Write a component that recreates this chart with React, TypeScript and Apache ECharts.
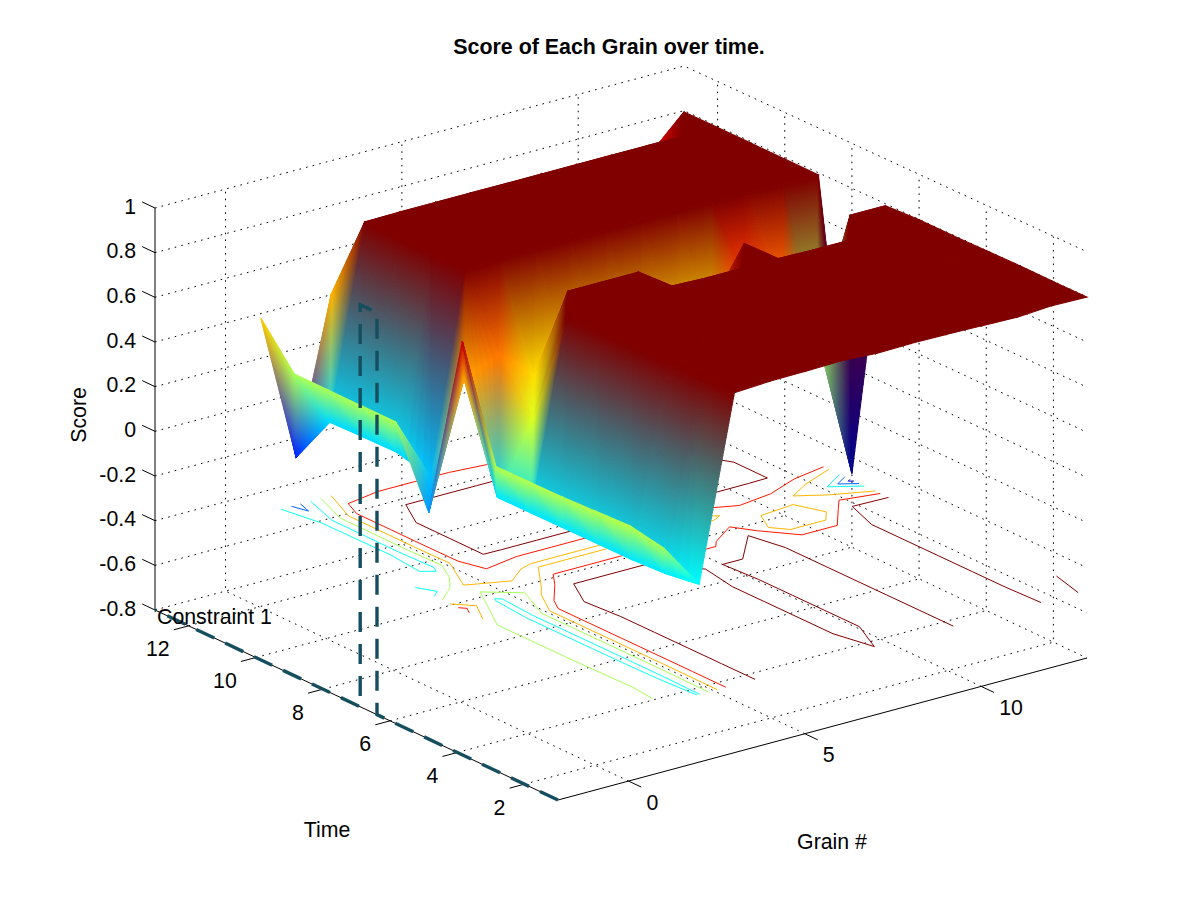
import React, { useEffect, useRef } from "react";
import * as echarts from "echarts";

// Score by grain (columns, grain 1..13), one array per time step
const grains = [1, 2, 3, 4, 5, 6, 7, 8, 9, 10, 11, 12, 13];
const times = [1, 2, 3, 4, 5, 6, 7, 8, 9, 10, 11, 12, 13];
const scoreT1 = [0.19, -0.012, 0.795, 0.8035, 0.805, 0.809, 0.8001, 0.803, 0.8008, 0.797, 0.793, 0.803, 0.799];
const scoreT2 = [0.22, -0.033, 0.795, 0.8035, 0.805, 0.809, 0.797, 0.803, 0.8008, 0.797, 0.797, 0.8016, 0.8001];
const scoreT3 = [0.215, -0.04, 0.795, 0.8035, 0.805, 0.809, 0.797, 0.803, 0.8008, 0.797, 0.797, 0.8016, 0.803];
const scoreT4 = [0.21, -0.04, 0.795, 0.8035, 0.805, 0.809, 0.797, 0.803, 0.8008, 0.797, 0.797, 0.8016, 0.803];
const scoreT5 = [0.21, -0.04, 0.795, 0.8035, 0.805, 0.809, 0.797, 0.803, 0.8008, 0.797, 0.797, 0.8016, 0.803];
const scoreT6 = [0.21, -0.04, 0.795, 0.805, 0.805, 0.805, 0.7997, 0.8004, 0.8008, 0.797, 0.797, 0.8016, 0.805];
const scoreT7 = [0.7, -0.04, 0.27, 0.799, 0.799, 0.799, 0.55, 0.55, 0.7999, 0.21, 0.21, 0.7999, 0.7995];
const scoreT8 = [-0.135, 0.42, 0.48, 0.35, 0.35, 0.35, 0.35, 0.35, 0.35, 0.55, 0.5, 0.2, -0.47];
const scoreT9 = [0.2, -0.09, 0.795, 0.805, 0.805, 0.805, 0.805, 0.805, 0.805, 0.805, 0.805, 0.796, 0.796];
const scoreT10 = [0.2, -0.05, 0.795, 0.805, 0.805, 0.805, 0.805, 0.805, 0.805, 0.805, 0.805, 0.796, 0.796];
const scoreT11 = [0.2, -0.053, 0.795, 0.805, 0.805, 0.805, 0.805, 0.805, 0.805, 0.799, 0.799, 0.796, 0.796];
const scoreT12 = [0.2, -0.057, 0.797, 0.799, 0.799, 0.799, 0.799, 0.799, 0.799, 0.799, 0.799, 0.799, 0.796];
const scoreT13 = [0.38, -0.285, 0.402, 0.5, 0.5, 0.5, 0.45, 0.5, 0.5, 0.5, 0.55, 0.64, 0.794];
const scores = [scoreT1, scoreT2, scoreT3, scoreT4, scoreT5, scoreT6, scoreT7, scoreT8, scoreT9, scoreT10, scoreT11, scoreT12, scoreT13];

const contourLevels = [-0.4, -0.2, 0, 0.2, 0.4, 0.6, 0.8];
const scoreTicks = [-0.8, -0.6, -0.4, -0.2, 0, 0.2, 0.4, 0.6, 0.8, 1];
const grainTicks = [0, 5, 10];
const timeTicks = [2, 4, 6, 8, 10, 12];
const constraintTimes = [6.39, 6.89];

const grainLim = [-2, 13];
const timeLim = [1, 13];
const scoreLim = [-0.8, 1];
const contourPlane = -0.5;
const colorLim = [-0.49, 0.788];
// [grain, time, level] of the one saddle cell whose contour splits the other way in the picture
const splitSaddle = [3, 7, 0.4];

// view of the box, taken from its corners on the page
const ORIGIN = [558, 800];
const GX = 529 / 15, GY = 142 / 15, TX = 403 / 12, TY = 190 / 12, ZH = 402 / 1.8;
function proj(g: number, t: number, z: number): [number, number] {
  const lift = ((z - scoreLim[0]) / 1.6) * Math.max(0, 7 - t) * 0.63;
  return [
    ORIGIN[0] + (g - grainLim[0]) * GX - (t - timeLim[0]) * TX,
    ORIGIN[1] - (g - grainLim[0]) * GY - (t - timeLim[0]) * TY - (z - scoreLim[0]) * ZH - (g >= grains[0] ? lift : 0),
  ];
}
const clamp01 = (v: number) => Math.max(0, Math.min(1, v));
function jet(z: number): number[] {
  const v = clamp01((z - colorLim[0]) / (colorLim[1] - colorLim[0]));
  return [
    255 * clamp01(1.5 - Math.abs(4 * v - 3)),
    255 * clamp01(1.5 - Math.abs(4 * v - 2)),
    255 * clamp01(1.5 - Math.abs(4 * v - 1)),
  ];
}
const css = (c: number[]) => `rgb(${Math.round(c[0])},${Math.round(c[1])},${Math.round(c[2])})`;
const mix = (a: number[], b: number[], k: number) => a.map((v, i) => v + (b[i] - v) * k);
const cdiff = (a: number[], b: number[]) => Math.max(Math.abs(a[0] - b[0]), Math.abs(a[1] - b[1]), Math.abs(a[2] - b[2]));
const plen = (a: number[], b: number[]) => Math.hypot(a[0] - b[0], a[1] - b[1]);

type V = { p: number[]; c: number[] };
function shadeTriangle(A: V, B: V, C: V, out: any[]) {
  // choose AB as the edge with least colour change, strips run parallel to it
  const opts: V[][] = [[A, B, C], [B, C, A], [C, A, B]];
  opts.sort((u, v) => cdiff(u[0].c, u[1].c) - cdiff(v[0].c, v[1].c));
  const [a, b, c] = opts[0];
  const d = Math.max(cdiff(a.c, c.c), cdiff(b.c, c.c));
  const L = Math.max(plen(a.p, c.p), plen(b.p, c.p));
  const n = Math.max(1, Math.min(Math.ceil(d / 4), Math.ceil(L / 2.5)));
  const m = Math.max(1, Math.min(Math.ceil(cdiff(a.c, b.c) / 8), Math.ceil(plen(a.p, b.p) / 3)));
  for (let i = 0; i < n; i++) {
    const k0 = i / n, k1 = (i + 1) / n;
    const p0a = mix(c.p, a.p, k0), p0b = mix(c.p, b.p, k0), p1a = mix(c.p, a.p, k1), p1b = mix(c.p, b.p, k1);
    const ca = mix(c.c, a.c, (k0 + k1) / 2), cb = mix(c.c, b.c, (k0 + k1) / 2);
    for (let j = 0; j < m; j++) {
      const s0 = j / m, s1 = (j + 1) / m;
      const pts = [mix(p0a, p0b, s0), mix(p0a, p0b, s1), mix(p1a, p1b, s1), mix(p1a, p1b, s0)];
      const col = css(mix(ca, cb, (s0 + s1) / 2));
      out.push({ type: "polygon", shape: { points: pts }, style: { fill: col, stroke: col, lineWidth: 1.1 } });
    }
  }
}

function contourSegments(level: number): number[][] {
  const segs: number[][] = [];
  for (let ti = 0; ti < times.length - 1; ti++) {
    for (let gi = 0; gi < grains.length - 1; gi++) {
      const corners = [
        [grains[gi], times[ti], scores[ti][gi]],
        [grains[gi + 1], times[ti], scores[ti][gi + 1]],
        [grains[gi + 1], times[ti + 1], scores[ti + 1][gi + 1]],
        [grains[gi], times[ti + 1], scores[ti + 1][gi]],
      ];
      const hits: number[][] = [];
      for (let e = 0; e < 4; e++) {
        const p = corners[e], q = corners[(e + 1) % 4];
        if ((p[2] - level) * (q[2] - level) < 0) {
          const k = (level - p[2]) / (q[2] - p[2]);
          hits.push([p[0] + (q[0] - p[0]) * k, p[1] + (q[1] - p[1]) * k]);
        }
      }
      if (hits.length === 2) segs.push([level, ...hits[0], ...hits[1]]);
      if (hits.length === 4) {
        const centre = (corners[0][2] + corners[1][2] + corners[2][2] + corners[3][2]) / 4;
        const forced = grains[gi] === splitSaddle[0] && times[ti] === splitSaddle[1] && level === splitSaddle[2];
        if (forced || (centre - level) * (corners[0][2] - level) > 0) {
          // corners 0 and 2 join through the middle, 1 and 3 are cut off
          segs.push([level, ...hits[0], ...hits[1]]);
          segs.push([level, ...hits[2], ...hits[3]]);
        } else {
          segs.push([level, ...hits[3], ...hits[0]]);
          segs.push([level, ...hits[1], ...hits[2]]);
        }
      }
    }
  }
  return segs;
}

const FONT = "'Liberation Sans', Arial, sans-serif";
const FS = 21.3;

function buildOption() {
  const [g0, g1] = grainLim, [t0, t1] = timeLim, [z0, z1] = scoreLim;

  // dotted grid
  const gridLines: number[][][] = [];
  scoreTicks.forEach((z) => gridLines.push([proj(g0, t1, z), proj(g1, t1, z), proj(g1, t0, z)]));
  grainTicks.forEach((g) => gridLines.push([proj(g, t0, z0), proj(g, t1, z0), proj(g, t1, z1)]));
  timeTicks.forEach((t) => gridLines.push([proj(g0, t, z0), proj(g1, t, z0), proj(g1, t, z1)]));

  // axes and tick marks
  const axisLines: number[][][] = [
    [proj(g0, t1, z1), proj(g0, t1, z0), proj(g0, t0, z0), proj(g1, t0, z0)],
  ];
  scoreTicks.forEach((z) => axisLines.push([proj(g0, t1, z), proj(g0, t1 + 0.38, z)]));
  grainTicks.forEach((g) => axisLines.push([proj(g, t0, z0), proj(g, t0 - 0.38, z0)]));
  timeTicks.forEach((t) => axisLines.push([proj(g0, t, z0), proj(g0 - 0.42, t, z0)]));

  // constraint outline on the front wall
  const [c0, c1] = constraintTimes;
  const constraint = [proj(g0, t0, z0), proj(g0, c0, z0), proj(g0, c0, z1), proj(g0, c1, z1), proj(g0, c1, z0), proj(g0, t1, z0)];

  // surface cells, far to near
  const cells: number[][] = [];
  for (let gi = grains.length - 2; gi >= 0; gi--) {
    for (let ti = times.length - 2; ti >= 0; ti--) cells.push([gi, ti]);
  }
  const segments = contourLevels.flatMap((l) => contourSegments(l));

  const labels: any[] = [];
  const addText = (text: string, x: number, y: number, align: string, extra: any = {}) =>
    labels.push({ text, x, y, align, ...extra });
  scoreTicks.forEach((z) => {
    const p = proj(g0, t1, z);
    addText(String(z), p[0] - 19, p[1] - 1.5, "right");
  });
  timeTicks.forEach((t) => {
    const p = proj(g0, t, z0);
    addText(String(t), p[0] - 19, p[1] + 23.5, "right");
  });
  grainTicks.forEach((g) => {
    const p = proj(g, t0, z0);
    addText(String(g), p[0] + 18, p[1] + 21.5, "left");
  });
  addText("Grain #", 832, 842, "center");
  addText("Time", 327, 830, "center");
  addText("Score", 79, 415, "center", { rotation: Math.PI / 2 });
  addText("Constraint 1", 157, 617, "left");

  const C = (api: any, p: number[]) => api.coord(p);
  return {
    animation: false,
    backgroundColor: "#fff",
    title: {
      text: "Score of Each Grain over time.",
      left: 604,
      top: 31,
      textAlign: "center",
      textStyle: { fontFamily: FONT, fontSize: 21.4, fontWeight: "bold", color: "#000" },
    },
    grid: { left: 0, top: 0, right: 0, bottom: 0 },
    xAxis: { type: "value", min: 0, max: 1201, show: false },
    yAxis: { type: "value", min: 0, max: 900, inverse: true, show: false },
    series: [
      {
        type: "custom", name: "grid", silent: true, clip: false, data: gridLines.map((_, i) => [i]),
        renderItem: (p: any, api: any) => ({
          type: "polyline",
          shape: { points: gridLines[p.dataIndex].map((q) => C(api, q)) },
          style: { stroke: "#000", fill: null, lineWidth: 1, lineDash: [1.6, 5.2] },
        }),
      },
      {
        type: "custom", name: "contours", silent: true, clip: false, data: segments,
        renderItem: (p: any, api: any) => {
          const s = segments[p.dataIndex];
          const a = C(api, proj(s[1], s[2], contourPlane));
          const b = C(api, proj(s[3], s[4], contourPlane));
          return {
            type: "line",
            shape: { x1: a[0], y1: a[1], x2: b[0], y2: b[1] },
            style: { stroke: css(jet(s[0])), lineWidth: 1 },
          };
        },
      },
      {
        type: "custom", name: "axes", silent: true, clip: false, data: axisLines.map((_, i) => [i]),
        renderItem: (p: any, api: any) => ({
          type: "polyline",
          shape: { points: axisLines[p.dataIndex].map((q) => C(api, q)) },
          style: { stroke: "#000", fill: null, lineWidth: 1 },
        }),
      },
      {
        type: "custom", name: "Score", silent: true, clip: false, data: cells,
        renderItem: (p: any, api: any) => {
          const [gi, ti] = cells[p.dataIndex];
          const vx = (a: number, b: number): V => {
            const z = scores[b][a];
            return { p: C(api, proj(grains[a], times[b], z)), c: jet(z) };
          };
          const A = vx(gi, ti), B = vx(gi + 1, ti), D = vx(gi + 1, ti + 1), E = vx(gi, ti + 1);
          const out: any[] = [];
          shadeTriangle(A, E, D, out);
          shadeTriangle(A, B, D, out);
          return { type: "group", children: out };
        },
      },
      {
        type: "custom", name: "Constraint 1", silent: true, clip: false, data: [[0]],
        renderItem: (_p: any, api: any) => ({
          type: "polyline",
          shape: { points: constraint.map((q) => C(api, q)) },
          style: { stroke: "#154e5e", fill: null, lineWidth: 3.4, lineDash: [20, 12] },
        }),
      },
      {
        type: "custom", name: "labels", silent: true, clip: false, data: labels.map((_, i) => [i]),
        renderItem: (p: any, api: any) => {
          const l = labels[p.dataIndex];
          const q = C(api, [l.x, l.y]);
          return {
            type: "text", x: q[0], y: q[1], rotation: l.rotation || 0,
            style: { text: l.text, fontFamily: FONT, fontSize: FS, fill: "#000", align: l.align, verticalAlign: "middle" },
          };
        },
      },
    ],
  };
}

export default function App() {
  const ref = useRef<HTMLDivElement>(null);
  useEffect(() => {
    document.body.style.margin = "0";
    const chart = echarts.init(ref.current!, undefined, { renderer: "svg" });
    chart.setOption(buildOption() as any);
    return () => chart.dispose();
  }, []);
  return <div ref={ref} style={{ width: 1201, height: 900 }} />;
}
